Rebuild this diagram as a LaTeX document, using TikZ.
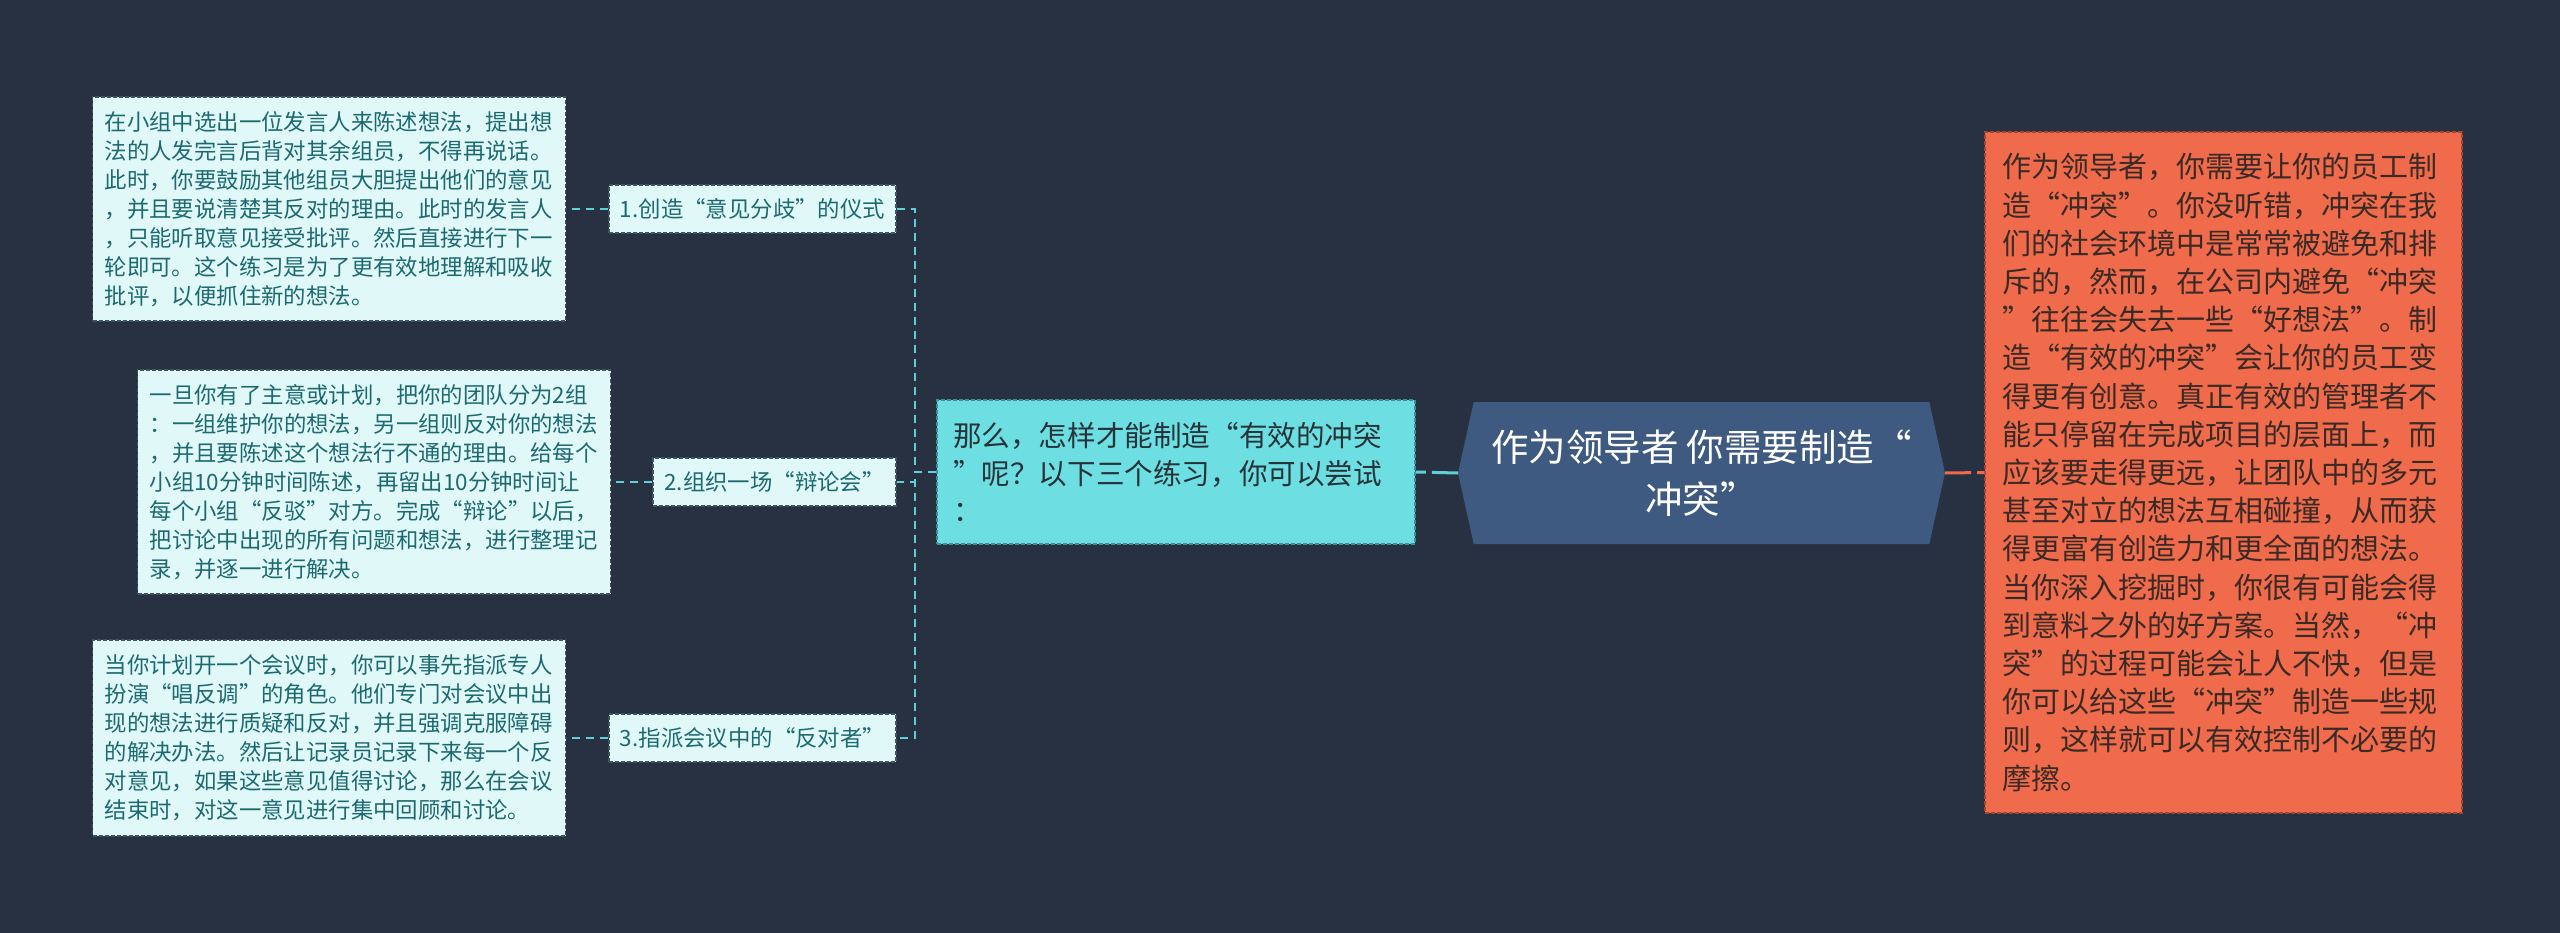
\documentclass[tikz,border=0pt]{standalone}
\usepackage{fontspec}
\setmainfont{Noto Sans CJK SC}
\usepackage{xcolor}
\usetikzlibrary{positioning,shapes.symbols}
\definecolor{bgNavy}{HTML}{283142}
\definecolor{cRoot}{HTML}{3E5A80}
\definecolor{cMain}{HTML}{F06B4B}
\definecolor{cMainEdge}{HTML}{A4452F}
\definecolor{cMainInk}{HTML}{3A2A26}
\definecolor{cMid}{HTML}{6DDFE3}
\definecolor{cMidEdge}{HTML}{3D8E96}
\definecolor{cMidInk}{HTML}{26343A}
\definecolor{cLeaf}{HTML}{E1F8F8}
\definecolor{cLeafEdge}{HTML}{3E5560}
\definecolor{cLeafInk}{HTML}{1C6A70}
\definecolor{cLine}{HTML}{5FD0D8}
\tikzset{
  card/.style     = {align=left, inner ysep=0pt, line width=1.4pt, dash pattern=on 4pt off 2pt},
  rootbox/.style  = {signal, signal to=west and east, signal pointer angle=155, fill=cRoot,
                     text=white, align=center, minimum width=487pt, minimum height=142pt,
                     font={\fontsize{37.5}{52}\selectfont}},
  mainbox/.style  = {card, fill=cMain, draw=cMainEdge, text=cMainInk, text width=443pt,
                     inner xsep=17pt, minimum height=681pt, font={\fontsize{29}{38.2}\selectfont}},
  midbox/.style   = {card, fill=cMid, draw=cMidEdge, text=cMidInk, text width=446pt,
                     inner xsep=16pt, minimum height=144pt, font={\fontsize{28.6}{37.5}\selectfont}},
  topicbox/.style = {card, fill=cLeaf, draw=cLeafEdge, text=cLeafInk, inner xsep=0pt,
                     minimum height=48pt, align=center, font={\fontsize{22.4}{29}\selectfont}},
  leafbox/.style  = {card, fill=cLeaf, draw=cLeafEdge, text=cLeafInk, text width=449pt,
                     inner xsep=12pt, font={\fontsize{22.4}{29}\selectfont}},
  link/.style     = {draw=cLine, line width=2pt, dash pattern=on 8pt off 6pt},
  rootlink/.style = {line width=3pt, dash pattern=on 26pt off 6pt},
}

\begin{document}
\begin{tikzpicture}[x=1pt, y=-1pt, node distance=42pt]
  \fill[bgNavy] (0,0) rectangle (2560,933);

  \node[rootbox] (root) at (1701.5,473) {作为领导者 你需要制造“\\冲突”};
  \node[mainbox, minimum width=477pt] (main) at (2223.5,472.5)
       {作为领导者，你需要让你的员工制\\造“冲突”。你没听错，冲突在我\\们的社会环境中是常常被避免和排\\斥的，然而，在公司内避免“冲突\\”往往会失去一些“好想法”。制\\造“有效的冲突”会让你的员工变\\得更有创意。真正有效的管理者不\\能只停留在完成项目的层面上，而\\应该要走得更远，让团队中的多元\\甚至对立的想法互相碰撞，从而获\\得更富有创造力和更全面的想法。\\当你深入挖掘时，你很有可能会得\\到意料之外的好方案。当然，“冲\\突”的过程可能会让人不快，但是\\你可以给这些“冲突”制造一些规\\则，这样就可以有效控制不必要的\\摩擦。};
  \node[midbox] (mid) at (1176,472)
       {那么，怎样才能制造“有效的冲突\\”呢？以下三个练习，你可以尝试\\：};
  \draw[rootlink, draw=cLine] (root.west) -- (mid.east);
  \draw[rootlink, draw=cMain] (root.east) -- (main.west);

  \node[topicbox, minimum width=287pt] (s1) at (752.5,209) {1.创造“意见分歧”的仪式};
  \node[topicbox, minimum width=243pt] (s2) at (774.5,482) {2.组织一场“辩论会”};
  \node[topicbox, minimum width=287pt] (s3) at (752.5,738) {3.指派会议中的“反对者”};
  \draw[link] (mid.west) -- ++(-21,0) |- (s1.east);
  \draw[link] (mid.west) -- ++(-21,0) |- (s2.east);
  \draw[link] (mid.west) -- ++(-21,0) |- (s3.east);

  \node[leafbox, minimum height=224pt, left=of s1] (l1)
       {在小组中选出一位发言人来陈述想法，提出想\\法的人发完言后背对其余组员，不得再说话。\\此时，你要鼓励其他组员大胆提出他们的意见\\，并且要说清楚其反对的理由。此时的发言人\\，只能听取意见接受批评。然后直接进行下一\\轮即可。这个练习是为了更有效地理解和吸收\\批评，以便抓住新的想法。};
  \node[leafbox, minimum height=224pt, left=41pt of s2] (l2)
       {一旦你有了主意或计划，把你的团队分为2组\\：一组维护你的想法，另一组则反对你的想法\\，并且要陈述这个想法行不通的理由。给每个\\小组10分钟时间陈述，再留出10分钟时间让\\每个小组“反驳”对方。完成“辩论”以后，\\把讨论中出现的所有问题和想法，进行整理记\\录，并逐一进行解决。};
  \node[leafbox, minimum height=196pt, left=of s3] (l3)
       {当你计划开一个会议时，你可以事先指派专人\\扮演“唱反调”的角色。他们专门对会议中出\\现的想法进行质疑和反对，并且强调克服障碍\\的解决办法。然后让记录员记录下来每一个反\\对意见，如果这些意见值得讨论，那么在会议\\结束时，对这一意见进行集中回顾和讨论。};
  \draw[link] (s1.west) -- (l1.east);
  \draw[link] (s2.west) -- (l2.east);
  \draw[link] (s3.west) -- (l3.east);
\end{tikzpicture}
\end{document}
